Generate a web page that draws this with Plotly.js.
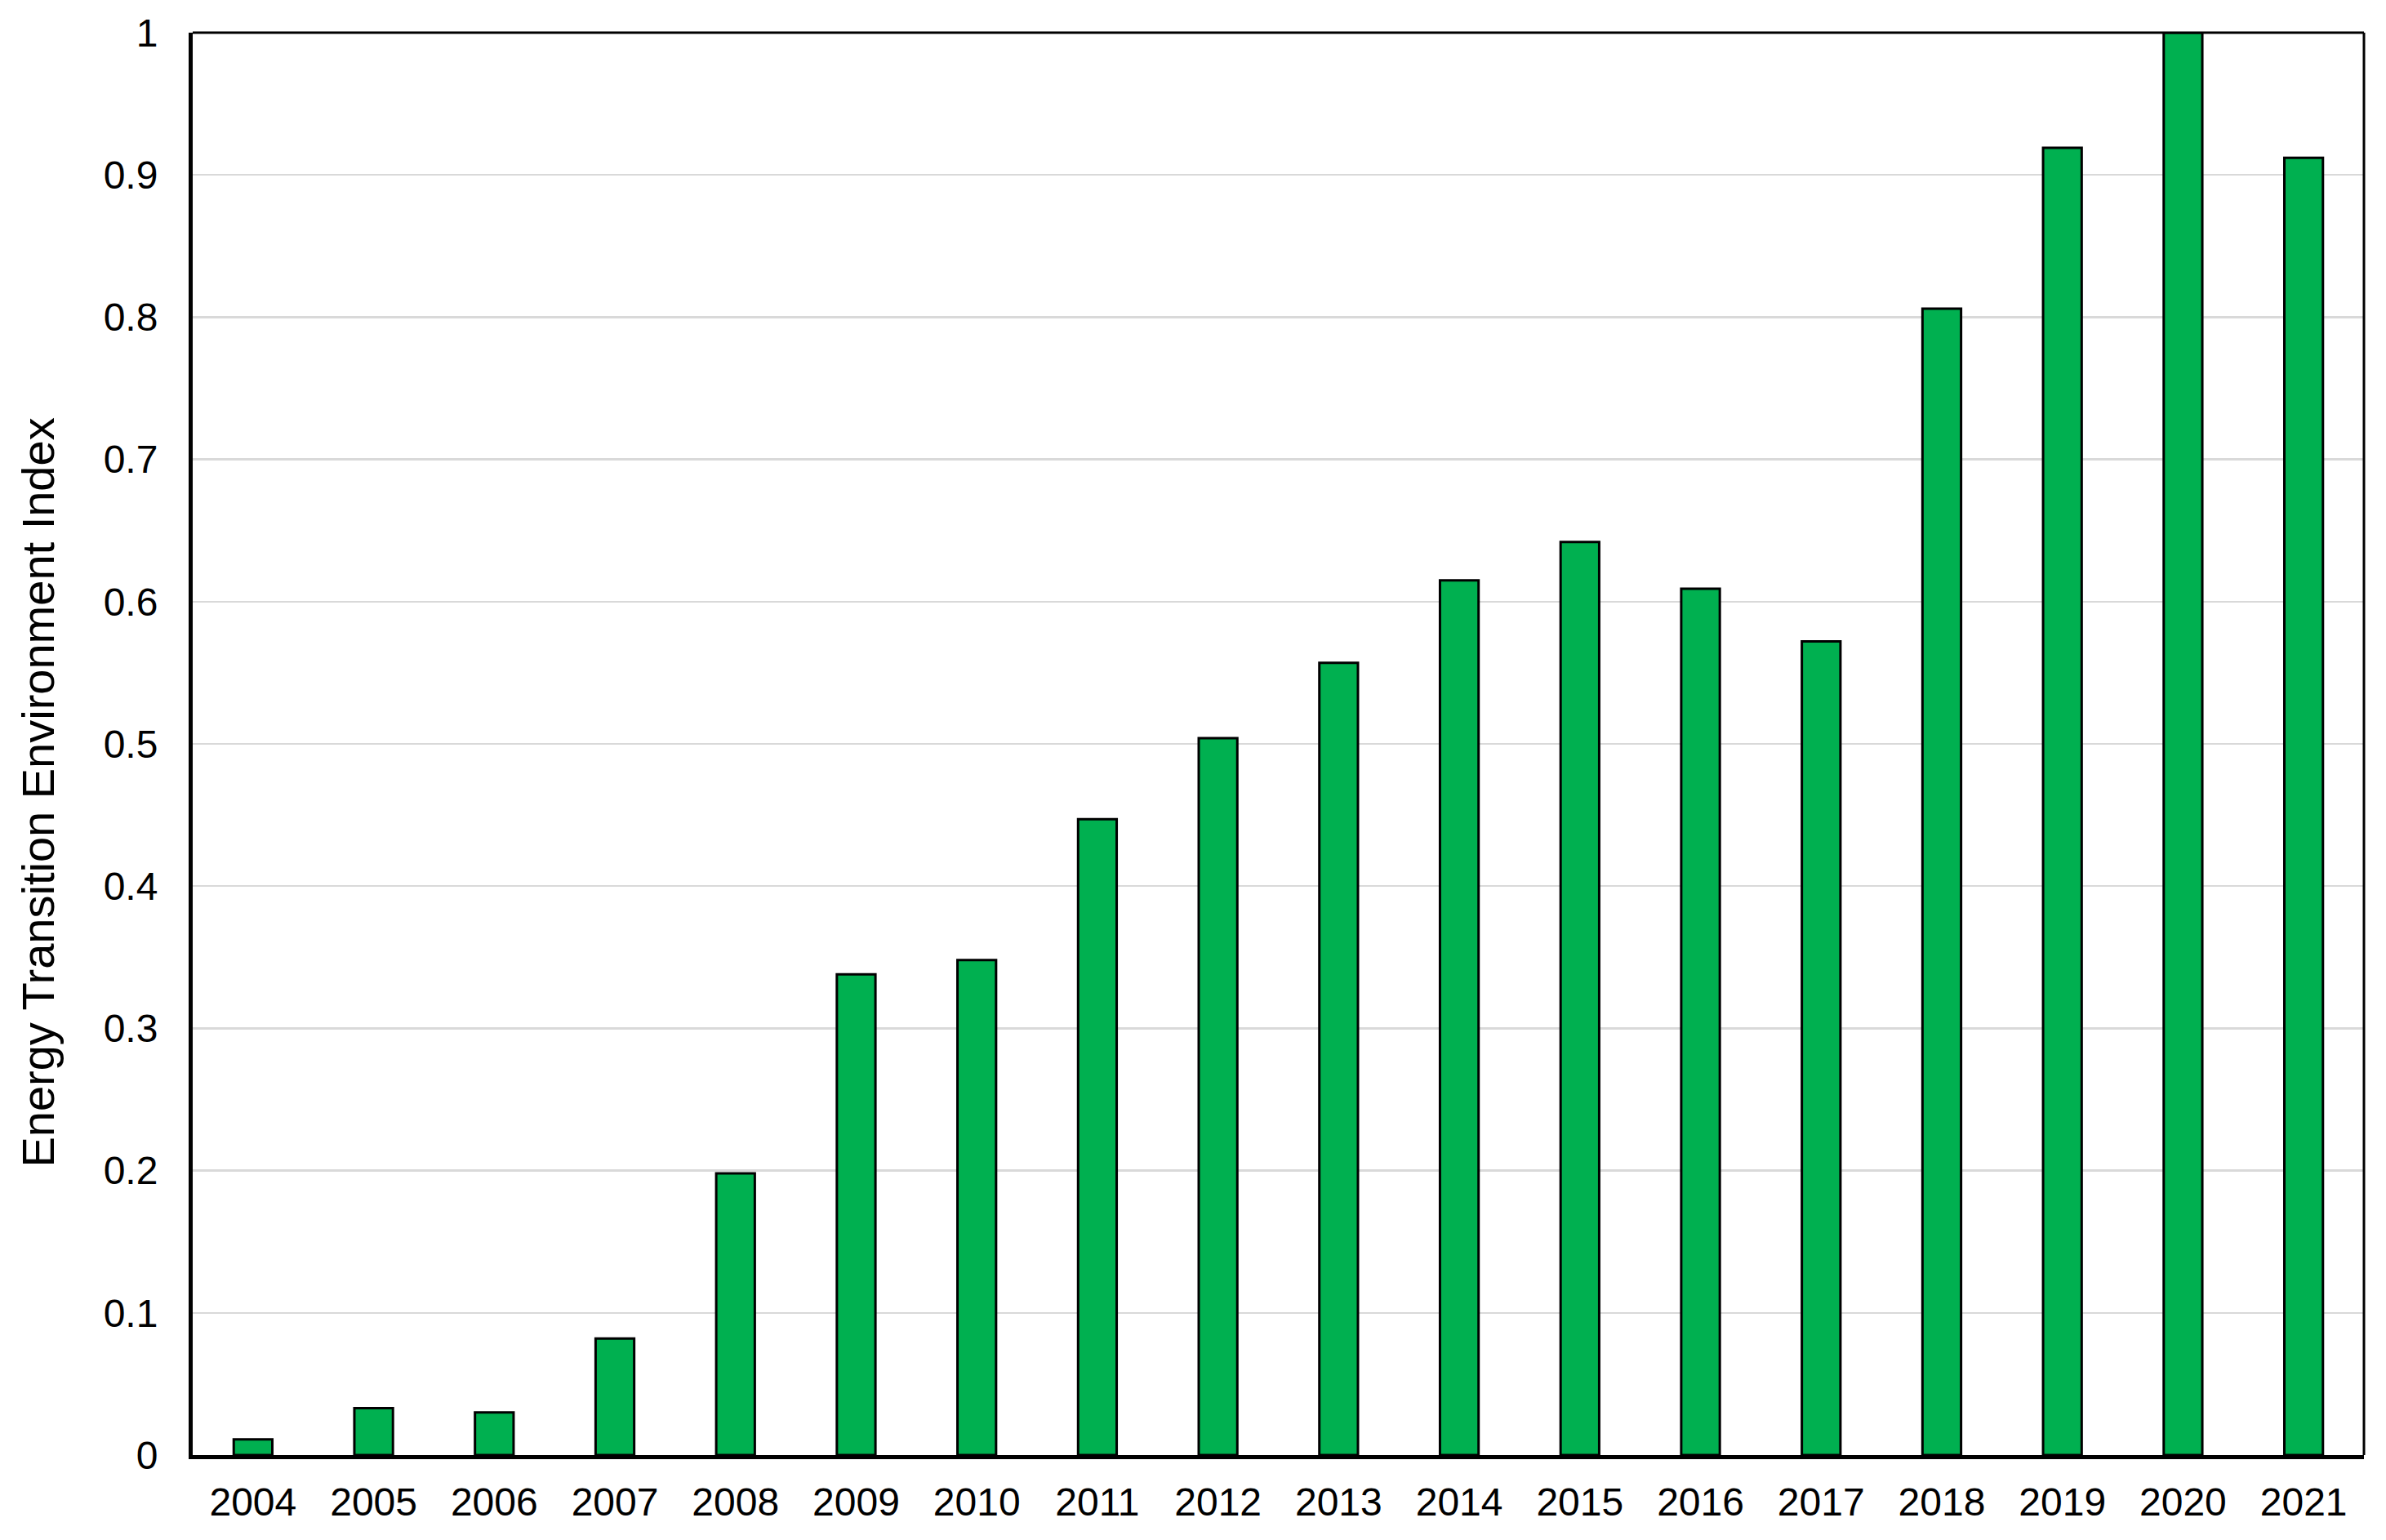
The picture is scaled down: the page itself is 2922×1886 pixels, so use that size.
<!DOCTYPE html>
<html>
<head>
<meta charset="utf-8">
<script src="https://cdn.plot.ly/plotly-3.0.1.min.js"></script>
<style>
  html, body { margin: 0; padding: 0; background: #ffffff; }
  #chart { width: 2922px; height: 1886px; }
</style>
</head>
<body>
<div id="chart"></div>
<script>
const years = ["2004","2005","2006","2007","2008","2009","2010","2011","2012","2013","2014","2015","2016","2017","2018","2019","2020","2021"];
const indexValues = [0.011, 0.033, 0.030, 0.082, 0.198, 0.338, 0.348, 0.447, 0.504, 0.557, 0.615, 0.642, 0.609, 0.572, 0.806, 0.919, 1.0, 0.912];
const yTickVals = [0, 0.1, 0.2, 0.3, 0.4, 0.5, 0.6, 0.7, 0.8, 0.9, 1];
const yTickText = ["0", "0.1", "0.2", "0.3", "0.4", "0.5", "0.6", "0.7", "0.8", "0.9", "1"];
const yTitle = "Energy Transition Environment Index";

const trace = {
  type: "bar",
  x: years,
  y: indexValues,
  marker: { color: "#00b050", line: { color: "#000000", width: 3 } },
  hoverinfo: "x+y"
};

const layout = {
  width: 2922,
  height: 1886,
  margin: { l: 236, r: 27, t: 40, b: 104 },
  paper_bgcolor: "#ffffff",
  plot_bgcolor: "#ffffff",
  font: { family: "Liberation Sans, Arial, sans-serif", color: "#000000", size: 48 },
  bargap: 0.68,
  showlegend: false,
  xaxis: {
    type: "category",
    showline: true,
    linecolor: "#000000",
    linewidth: 5,
    showgrid: false,
    ticks: "",
    ticklabelstandoff: 11,
    tickfont: { size: 48 },
    zeroline: false
  },
  yaxis: {
    range: [0, 1],
    tickvals: yTickVals,
    ticktext: yTickText,
    showline: true,
    linecolor: "#000000",
    linewidth: 5,
    showgrid: true,
    gridcolor: "#d9d9d9",
    gridwidth: 2.5,
    zeroline: false,
    ticks: "",
    ticklabelstandoff: 28,
    tickfont: { size: 48 }
  },
  annotations: [
    {
      text: yTitle,
      xref: "paper", yref: "paper",
      x: -0.0712, y: 0.4656,
      xanchor: "center", yanchor: "middle",
      textangle: -90,
      showarrow: false,
      font: { size: 56, color: "#000000" }
    }
  ],
  shapes: [
    { type: "line", xref: "paper", yref: "paper", x0: 0, x1: 1, y0: 1, y1: 1, line: { color: "#000000", width: 3 } },
    { type: "line", xref: "paper", yref: "paper", x0: 1, x1: 1, y0: 0, y1: 1, line: { color: "#000000", width: 3 } }
  ]
};

Plotly.newPlot("chart", [trace], layout, { displayModeBar: false, staticPlot: true });
</script>
</body>
</html>
